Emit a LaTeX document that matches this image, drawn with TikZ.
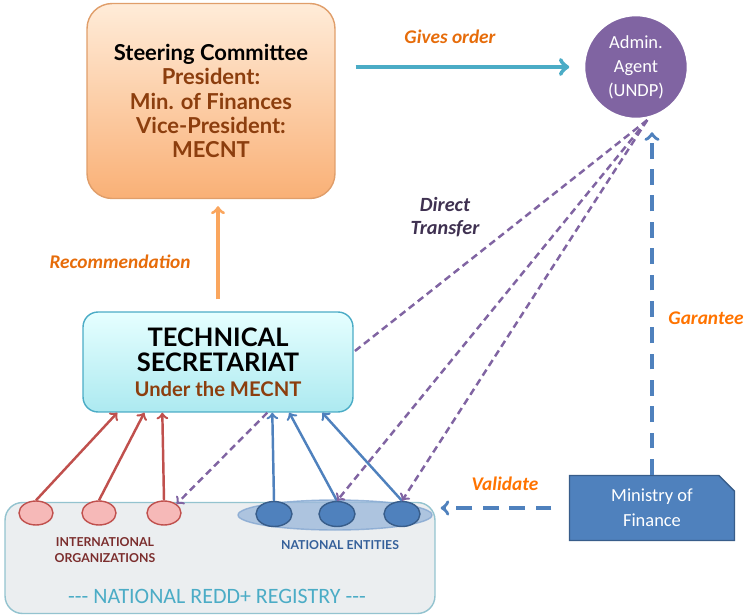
\documentclass[tikz,border=0pt]{standalone}
\usepackage{fontspec}
\setmainfont{Carlito}
\newfontfamily\gill{Lato}
\usepackage{tikz}
\usetikzlibrary{shapes.geometric, shapes.misc, arrows}

\definecolor{boxorange}{RGB}{249,176,118}
\definecolor{brownred}{RGB}{140,62,14}
\definecolor{teal}{RGB}{75,172,198}
\definecolor{agentpurple}{RGB}{128,100,162}
\definecolor{darkpurple}{RGB}{63,49,81}
\definecolor{lblorange}{RGB}{230,108,10}
\definecolor{redline}{RGB}{192,80,77}
\definecolor{pinkfill}{RGB}{246,185,184}
\definecolor{bluefill}{RGB}{79,129,189}
\definecolor{blueline}{RGB}{56,93,138}
\definecolor{regfill}{RGB}{235,238,240}
\definecolor{regline}{RGB}{147,195,207}
\definecolor{intred}{RGB}{123,45,45}
\definecolor{natblue}{RGB}{53,96,154}

\begin{document}
\begin{tikzpicture}[x=0.02cm, y=-0.02cm,
    lbl/.style = {font=\bfseries\itshape\fontsize{11}{13}\selectfont, color=lblorange},
    ent/.style = {draw, ellipse, line width=0.8pt},
    intl/.style = {ent, fill=pinkfill, draw=redline, minimum width=0.68cm, minimum height=0.48cm},
    natl/.style = {ent, fill=bluefill, draw=blueline, minimum width=0.72cm, minimum height=0.5cm},
    up/.style = {-to, line width=1.4pt},
    transfer/.style = {-to, dash pattern=on 4pt off 2.5pt, line width=1.4pt, color=agentpurple}]
    \useasboundingbox (0,0) rectangle (745,616);

    % boxes
    \node[draw=boxorange!90!black, line width=0.8pt, rounded corners=0.5cm, top color=orange!15, bottom color=boxorange,
          minimum width=4.96cm, minimum height=3.9cm, align=center, font=\gill\bfseries\fontsize{12.5}{13.9}\selectfont] at (211,101) (sc)
          {Steering Committee\\\color{brownred}President:\\\color{brownred}Min. of Finances\\\color{brownred}Vice-President:\\\color{brownred}MECNT};
    \node[circle, fill=agentpurple, draw=white, line width=2pt, minimum size=2.1cm, align=center, text=white,
          font=\fontsize{10.5}{13.6}\selectfont] at (636,67) (agent) {Admin.\\Agent\\(UNDP)};
    \node[draw=teal, line width=0.8pt, rounded corners=0.3cm, top color=cyan!10, bottom color=cyan!35!teal!40,
          minimum width=5.4cm, minimum height=2cm, align=center, font=\gill\bfseries\fontsize{14.5}{14.2}\selectfont] at (218,362) (ts)
          {TECHNICAL\\SECRETARIAT\\\color{brownred}\fontsize{11.5}{12}\selectfont Under the MECNT};
    \node[draw=regline, line width=0.8pt, fill=regfill, rounded corners=0.35cm, minimum width=8.6cm, minimum height=2.22cm] at (220,558) (reg) {};
    \node[chamfered rectangle, chamfered rectangle corners=north east, chamfered rectangle xsep=0.2cm,
          fill=bluefill, draw=blueline, line width=0.8pt, minimum width=3.3cm, minimum height=1.3cm,
          align=center, text=white, font=\fontsize{10.5}{14}\selectfont] at (652,508) (mof) {Ministry of\\Finance};

    % registry entries
    \node[ent, fill=bluefill!55!white, draw=bluefill!70!white, minimum width=3.88cm, minimum height=0.6cm, opacity=0.8] at (335,515) (natgroup) {};
    \node[intl] at (36,513) (i1) {};
    \node[intl] at (99,513) (i2) {};
    \node[intl] at (164,513) (i3) {};
    \node[natl] at (274,514) (n1) {};
    \node[natl] at (337,514) (n2) {};
    \node[natl] at (402,514) (n3) {};

    \node[align=center, color=intred, font=\gill\bfseries\fontsize{7}{9.5}\selectfont] at (105,550) (intlbl) {INTERNATIONAL\\ORGANIZATIONS};
    \node[color=natblue, font=\gill\bfseries\fontsize{7}{9}\selectfont] at (340,545) (natlbl) {NATIONAL ENTITIES};
    \node[color=teal, font=\fontsize{12.5}{13}\selectfont] at (217,596) (reglbl) {-{}-{}- NATIONAL REDD+ REGISTRY -{}-{}-};

    % entries report to the secretariat
    \draw[up, redline] (i1.north) -- ([xshift=0.7cm]ts.south west);
    \draw[up, redline] (i2.north) -- ([xshift=1.24cm]ts.south west);
    \draw[up, redline] (i3.north) -- ([xshift=1.6cm]ts.south west);
    \draw[up, bluefill] (n1.north) -- ([xshift=3.8cm]ts.south west);
    \draw[up, bluefill] (n2.north) -- ([xshift=4.14cm]ts.south west);
    \draw[up, bluefill] (n3.north) -- ([xshift=4.8cm]ts.south west);

    % orders and recommendations
    \draw[-to, line width=2.5pt, teal] ([xshift=0.4cm]sc.east |- agent.west) -- ([xshift=-0.25cm]agent.west);
    \node[lbl] at (450,37) (gives) {Gives order};
    \draw[-to, line width=1.8pt, boxorange!80!orange] ([yshift=0.24cm]ts.north) -- ([yshift=-0.14cm]ts.north |- sc.south);
    \node[lbl] at (120,262) (recom) {Recommendation};

    % direct transfers
    \draw[dash pattern=on 4pt off 2.5pt, line width=1.4pt, agentpurple] (agent.-78) -- ([yshift=0.2cm]ts.east);
    \draw[transfer] (agent.-78) -- (n2.north);
    \draw[transfer] (agent.-78) -- (n3.north);
    \draw[transfer] ([xshift=3.7cm]ts.south west) -- (i3.north east);
    \node[align=center, color=darkpurple, font=\bfseries\itshape\fontsize{11.5}{13}\selectfont] at (445,217) (direct) {Direct\\Transfer};

    % ministry of finance
    \draw[-to, dash pattern=on 9pt off 6pt, line width=2pt, bluefill] (mof.north) -- ([yshift=-0.22cm]mof.north |- agent.south);
    \node[lbl, color=orange!90!red] at (706,318) (garantee) {Garantee};
    \draw[-to, dash pattern=on 9pt off 6pt, line width=2pt, bluefill] ([xshift=-0.35cm]mof.west) -- ([xshift=0.1cm]reg.east |- mof.west);
    \node[lbl, color=orange!90!red] at (505,484) (validate) {Validate};
\end{tikzpicture}
\end{document}
